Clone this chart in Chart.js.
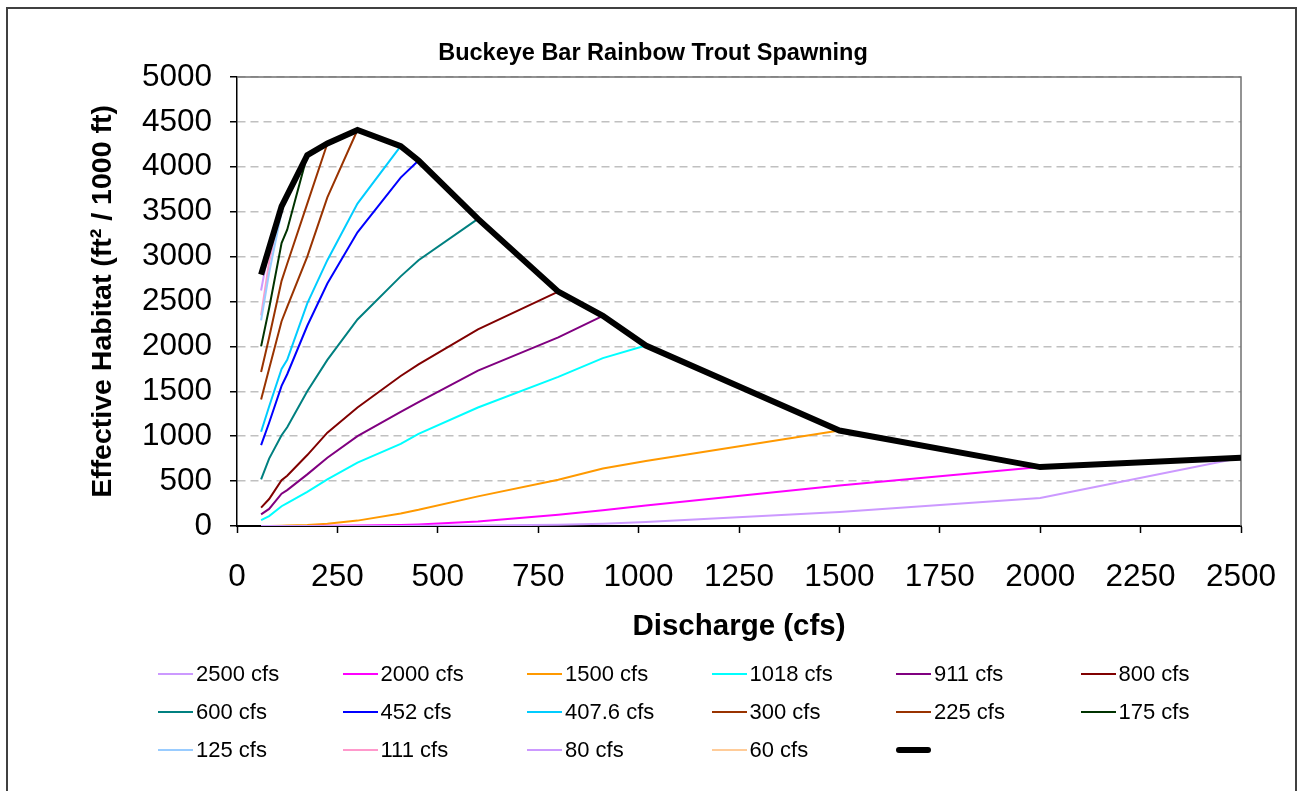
<!DOCTYPE html>
<html>
<head>
<meta charset="utf-8">
<script src="https://cdn.jsdelivr.net/npm/chart.js@4.4.1/dist/chart.umd.min.js"></script>
<style>
  body { margin: 0; background: #fff; font-family: "Liberation Sans", Arial, sans-serif; }
  #wrap { position: relative; width: 1302px; height: 791px; overflow: hidden; }
  #frame { position: absolute; left: 6px; top: 7px; width: 1291px; height: 790px; border: 2px solid #404040; box-sizing: border-box; pointer-events: none; }
  #legend { position: absolute; left: 0; top: 0; }
  .item { position: absolute; height: 30px; }
  .swatch { position: absolute; left: 0; top: 14px; width: 35px; height: 2px; }
  .label { position: absolute; left: 38px; top: 0; font-size: 22px; line-height: 30px; color: #000; white-space: nowrap; }
</style>
</head>
<body>
<div id="wrap">
  <canvas id="myChart" width="1302" height="791"></canvas>
  <div id="legend"></div>
  <div id="frame"></div>
</div>
<script>
// discharge values where habitat was computed
const flows = [60, 80, 111, 125, 175, 225, 300, 407.6, 452, 600, 800, 911, 1018, 1500, 2000, 2500];

// effective habitat for each simulated flow (values follow flows, up to the series' own flow)
const hab2500 = [0, 0, 0, 0, 0, 0, 0, 1, 2, 5, 15, 25, 45, 156, 311, 759];
const hab2000 = [0, 0, 0, 0, 1, 3, 6, 12, 18, 50, 125, 175, 228, 452, 656];
const hab1500 = [0, 1, 3, 5, 12, 25, 60, 140, 180, 330, 515, 640, 725, 1063];
const hab1018 = [65, 110, 220, 255, 380, 520, 705, 915, 1025, 1320, 1660, 1870, 2010];
const hab911 = [130, 190, 360, 400, 575, 760, 1000, 1270, 1380, 1730, 2100, 2340];
const hab800 = [205, 300, 510, 560, 790, 1040, 1320, 1670, 1800, 2190, 2610];
const hab600 = [520, 750, 1010, 1100, 1500, 1850, 2300, 2780, 2960, 3420];
const hab452 = [900, 1150, 1560, 1690, 2230, 2700, 3270, 3880, 4070];
const hab407 = [1050, 1330, 1750, 1850, 2480, 2960, 3590, 4230];
const hab300 = [1410, 1750, 2280, 2440, 3000, 3660, 4410];
const hab225 = [1715, 2100, 2730, 2920, 3590, 4260];
const hab175 = [2000, 2425, 3150, 3300, 4130];
const hab125 = [2290, 2820, 3500, 3690];
const hab111 = [2345, 2940, 3560];
const hab80 = [2622, 3100];
const hab60 = [2800];

// envelope (thick black line)
const envFlows = [60, 111, 175, 225, 300, 407.6, 452, 600, 800, 911, 1018, 1500, 2000, 2500];
const envHab = [2800, 3560, 4130, 4260, 4410, 4230, 4070, 3420, 2610, 2340, 2010, 1063, 656, 759];

const seriesLabels = ["2500 cfs", "2000 cfs", "1500 cfs", "1018 cfs", "911 cfs", "800 cfs",
  "600 cfs", "452 cfs", "407.6 cfs", "300 cfs", "225 cfs", "175 cfs",
  "125 cfs", "111 cfs", "80 cfs", "60 cfs"];
const seriesValues = [hab2500, hab2000, hab1500, hab1018, hab911, hab800,
  hab600, hab452, hab407, hab300, hab225, hab175, hab125, hab111, hab80, hab60];
const seriesColors = ["#CC99FF", "#FF00FF", "#FF9900", "#00FFFF", "#800080", "#800000",
  "#008080", "#0000FF", "#00CCFF", "#993300", "#993300", "#003300",
  "#99CCFF", "#FF99CC", "#CC99FF", "#FFCC99"];

const chartTitle = "Buckeye Bar Rainbow Trout Spawning";
const FONT = "'Liberation Sans', Arial, sans-serif";

function toPoints(xs, ys) {
  return ys.map(function (y, i) { return { x: xs[i], y: y }; });
}

let datasets = seriesLabels.map(function (lab, i) {
  return {
    label: lab,
    data: toPoints(flows, seriesValues[i]),
    borderColor: seriesColors[i],
    backgroundColor: seriesColors[i],
    borderWidth: 2,
    pointRadius: 0,
    tension: 0,
    order: 1,
  };
});
datasets.push({
  label: "",
  data: toPoints(envFlows, envHab),
  borderColor: "#000000",
  backgroundColor: "#000000",
  borderWidth: 6,
  borderJoinStyle: "miter",
  pointRadius: 0,
  tension: 0,
  order: 0,
});

// grey border on top / right of plot area, title centred on the whole frame
const plotBorder = {
  id: "plotBorder",
  beforeDatasetsDraw(chart) {
    const a = chart.chartArea, c = chart.ctx;
    c.save();
    c.strokeStyle = "#707070";
    c.lineWidth = 1.5;
    c.beginPath();
    c.moveTo(a.left, a.top);
    c.lineTo(a.right, a.top);
    c.lineTo(a.right, a.bottom);
    c.stroke();
    c.restore();
  },
  afterDraw(chart) {
    const c = chart.ctx;
    c.save();
    c.font = "bold 23.5px " + FONT;
    c.fillStyle = "#000";
    c.textAlign = "center";
    c.textBaseline = "middle";
    c.fillText(chartTitle, 653, 53.5);
    c.restore();
  },
};

function plain(v) {
  return String(v);
}

const ctx = document.getElementById("myChart").getContext("2d");
const myChart = new Chart(ctx, {
  type: "line",
  data: { datasets: datasets },
  plugins: [plotBorder],
  options: {
    responsive: false,
    animation: false,
    devicePixelRatio: 1,
    layout: { padding: { left: 82, right: 61, top: 77, bottom: 142.6 } },
    plugins: {
      legend: { display: false },
      tooltip: { enabled: false },
      title: { display: false },
    },
    scales: {
      x: {
        type: "linear",
        min: 0,
        max: 2500,
        afterFit: function (s) { s.height = 122.4; },
        ticks: { stepSize: 250, color: "#000", padding: 25, font: { family: FONT, size: 31.5 }, maxRotation: 0, callback: plain },
        grid: { drawOnChartArea: false, drawTicks: true, tickLength: 7, tickColor: "#000", tickWidth: 1.5 },
        border: { display: true, color: "#000", width: 2 },
        title: { display: true, text: "Discharge (cfs)", color: "#000", font: { family: FONT, size: 29.5, weight: "bold" } },
      },
      y: {
        min: 0,
        max: 5000,
        afterFit: function (s) { s.width = 155; },
        ticks: { stepSize: 500, color: "#000", padding: 18, font: { family: FONT, size: 31.5 }, callback: plain },
        grid: {
          color: function (c) { return c.tick && c.tick.value === 0 ? "rgba(0,0,0,0)" : "#c0c0c0"; },
          lineWidth: 1.5,
          tickLength: 7,
          tickColor: "#000",
          tickWidth: 1.5,
          tickBorderDash: [1, 0],
        },
        border: { display: true, color: "#000", width: 1.5, dash: [8, 5] },
        title: { display: true, text: "Effective Habitat (ft\u00B2 / 1000 ft)", color: "#000", font: { family: FONT, size: 28.5, weight: "bold" } },
      },
    },
  },
});

// legend laid out like the original (6 columns x 3 rows)
const legendBox = document.getElementById("legend");
const allLabels = seriesLabels.concat([""]);
const allColors = seriesColors.concat(["#000000"]);
allLabels.forEach(function (lab, i) {
  const col = i % 6, row = Math.floor(i / 6);
  const item = document.createElement("div");
  item.className = "item";
  item.style.left = (158 + col * 184.5) + "px";
  item.style.top = (674 - 15 + row * 38) + "px";
  const sw = document.createElement("div");
  sw.className = "swatch";
  sw.style.background = allColors[i];
  if (lab === "") {
    sw.style.height = "6px";
    sw.style.top = "12px";
    sw.style.borderRadius = "3px";
  }
  const tx = document.createElement("span");
  tx.className = "label";
  tx.textContent = lab;
  item.appendChild(sw);
  item.appendChild(tx);
  legendBox.appendChild(item);
});
</script>
</body>
</html>
